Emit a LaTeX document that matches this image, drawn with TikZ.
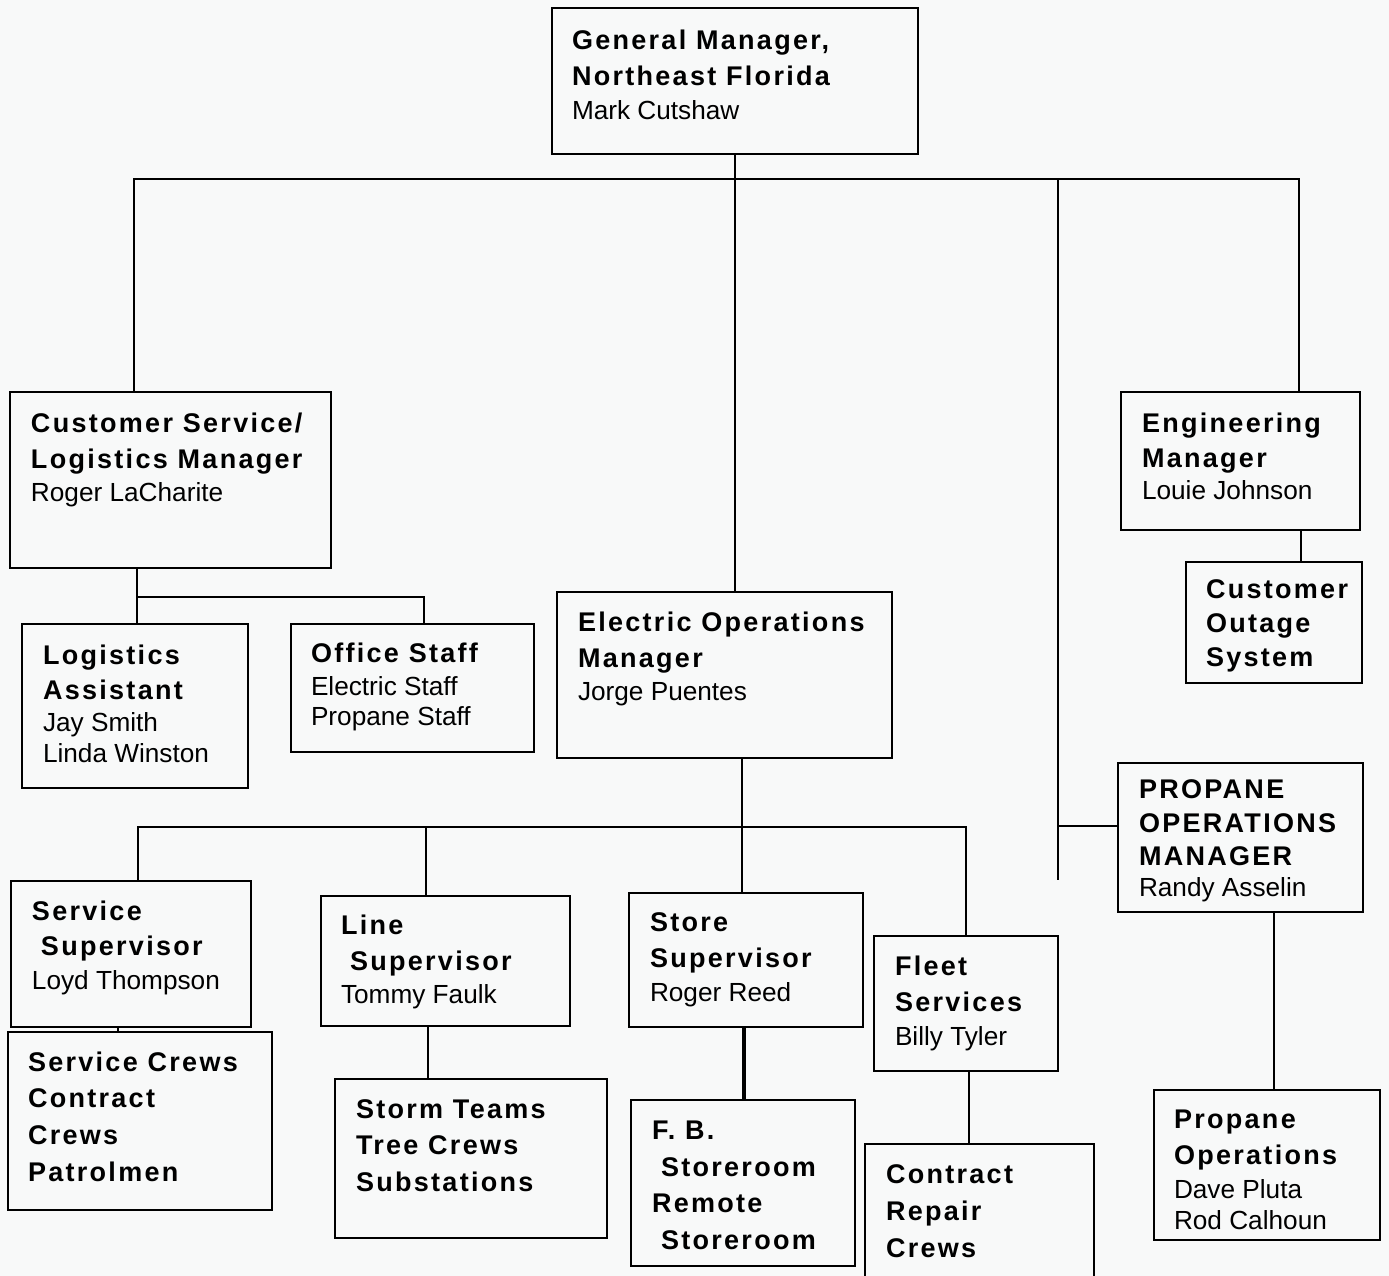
\documentclass[tikz,border=0pt]{standalone}
\usepackage{fontspec}
\setmainfont{Liberation Sans}[BoldFeatures={LetterSpace=8.5}]
\usetikzlibrary{calc}
\definecolor{bg}{RGB}{248,249,249}
\newcommand\myhd{\fontsize{13.5pt}{18pt}\selectfont\bfseries}
\newcommand\mynm{\fontsize{13.1pt}{18pt}\selectfont\mdseries}
\newcommand\obox[5]{\node[obx, minimum width={(#4-#2)*0.5pt}, minimum height={(#5-#3)*0.5pt}] (#1) at (#2,#3) {};}
\newcommand\otxt[4]{\node[olbl] (#1) at (#2,{#3-24}) {\rule{0pt}{12pt}#4};}
\begin{document}
\begin{tikzpicture}[x=0.5pt,y=-0.5pt,
  obx/.style={draw, line width=1.2pt, fill=bg, anchor=north west, inner sep=0pt, outer sep=0pt},
  olbl/.style={anchor=north west, inner sep=0pt, outer sep=0pt, align=left, font=\myhd},
  conn/.style={line width=1pt}]
\useasboundingbox (0,0) rectangle (1389,1276);
\clip (0,0) rectangle (1389,1276);
\fill[bg] (0,0) rectangle (1389,1276);

% boxes
\obox{gm}{552}{8}{918}{154}
\obox{cs}{10}{392}{331}{568}
\obox{la}{22}{624}{248}{788}
\obox{os}{291}{624}{534}{752}
\obox{eo}{557}{592}{892}{758}
\obox{eng}{1121}{392}{1360}{530}
\obox{cos}{1186}{562}{1362}{683}
\obox{pm}{1118}{763}{1363}{912}
\obox{po}{1154}{1090}{1380}{1240}
\obox{ss}{11}{881}{251}{1027}
\obox{sc}{8}{1032}{272}{1210}
\obox{ls}{321}{896}{570}{1026}
\obox{st}{335}{1079}{607}{1238}
\obox{sts}{629}{893}{863}{1027}
\obox{fb}{631}{1100}{855}{1266}
\obox{fs}{874}{936}{1058}{1071}
\obox{crc}{865}{1144}{1094}{1300}

% texts
\otxt{gmt}{572}{49}{General Manager,\\ Northeast Florida\\[-1pt]\mynm Mark Cutshaw}
\otxt{cst}{31}{432}{Customer Service/\\ Logistics Manager\\[-1.5pt]\mynm Roger LaCharite}
\otxt{lat}{43}{664}{Logistics\\[-0.5pt] Assistant\\[-2pt]\mynm Jay Smith\\[-2.5pt]\mynm Linda Winston}
\otxt{ost}{311}{662}{Office Staff\\[-1.5pt]\mynm Electric Staff\\[-3pt]\mynm Propane Staff}
\otxt{eot}{578}{631}{Electric Operations\\ Manager\\[-1.5pt]\mynm Jorge Puentes}
\otxt{engt}{1142}{432}{Engineering\\[-0.5pt] Manager\\[-2pt]\mynm Louie Johnson}
\otxt{cost}{1206}{598}{Customer\\[-1pt] Outage\\[-1pt] System}
\otxt{pmt}{1139}{798}{PROPANE\\[-1pt] OPERATIONS\\[-1.5pt] MANAGER\\[-2.5pt]\mynm Randy Asselin}
\otxt{pot}{1174}{1128}{Propane\\ Operations\\[-1pt]\mynm Dave Pluta\\[-2.5pt]\mynm Rod Calhoun}
\otxt{sst}{32}{920}{Service\\[-0.5pt] \hspace*{4.5pt}Supervisor\\[-1pt]\mynm Loyd Thompson}
\otxt{sct}{28}{1071}{Service Crews\\ Contract\\[0.5pt] Crews\\[0.5pt] Patrolmen}
\otxt{lst}{341}{934}{Line\\ \hspace*{4.5pt}Supervisor\\[-1.5pt]\mynm Tommy Faulk}
\otxt{stt}{356}{1118}{Storm Teams\\ Tree Crews\\[0.5pt] Substations}
\otxt{stst}{650}{931}{Store\\ Supervisor\\[-1pt]\mynm Roger Reed}
\otxt{fbt}{652}{1139}{F. B.\\[0.5pt] \hspace*{4.5pt}Storeroom\\ Remote\\[0.5pt] \hspace*{4.5pt}Storeroom}
\otxt{fst}{895}{975}{Fleet\\ Services\\[-1pt]\mynm Billy Tyler}
\otxt{crct}{886}{1183}{Contract\\[0.5pt] Repair\\[0.5pt] Crews}

% junction coordinates
\coordinate (busL) at (134,179);
\coordinate (busR) at (1299,179);
\coordinate (ptop) at (1058,179);
\coordinate (pend) at (1058,880);
\coordinate (pj) at (1058,826);
\coordinate (csj) at (137,597);
\coordinate (osj) at (424,597);
\coordinate (engj) at (1301,546);
\coordinate (eoj) at (742,827);
\coordinate (b1) at (138,827);
\coordinate (b2) at (426,827);
\coordinate (b4) at (966,827);
\coordinate (ssj) at (118,1030);
\coordinate (lsj) at (428,1050);
\coordinate (stsj) at (744,1060);
\coordinate (fsj) at (969,1100);
\coordinate (pmj) at (1274,1000);

% connectors
\draw[conn] (gm.south) -- (gm.south |- eo.north);
\draw[conn] (cs.north -| busL) -- (busL) -- (busR) -- (eng.north -| busR);
\draw[conn] (ptop) -- (pend);
\draw[conn] (pj) -- (pm.west |- pj);
\draw[conn] (cs.south -| csj) -- (la.north -| csj);
\draw[conn] (csj) -- (osj) -- (os.north -| osj);
\draw[conn] (eng.south -| engj) -- (cos.north -| engj);
\draw[conn] (eo.south -| eoj) -- (sts.north -| eoj);
\draw[conn] (ss.north -| b1) -- (b1) -- (b4) -- (fs.north -| b4);
\draw[conn] (b2) -- (ls.north -| b2);
\draw[conn] (ss.south -| ssj) -- (sc.north -| ssj);
\draw[conn] (ls.south -| lsj) -- (st.north -| lsj);
\draw[line width=1.6pt] (sts.south -| stsj) -- (fb.north -| stsj);
\draw[conn] (fs.south -| fsj) -- (crc.north -| fsj);
\draw[conn] (pm.south -| pmj) -- (po.north -| pmj);
\end{tikzpicture}
\end{document}
